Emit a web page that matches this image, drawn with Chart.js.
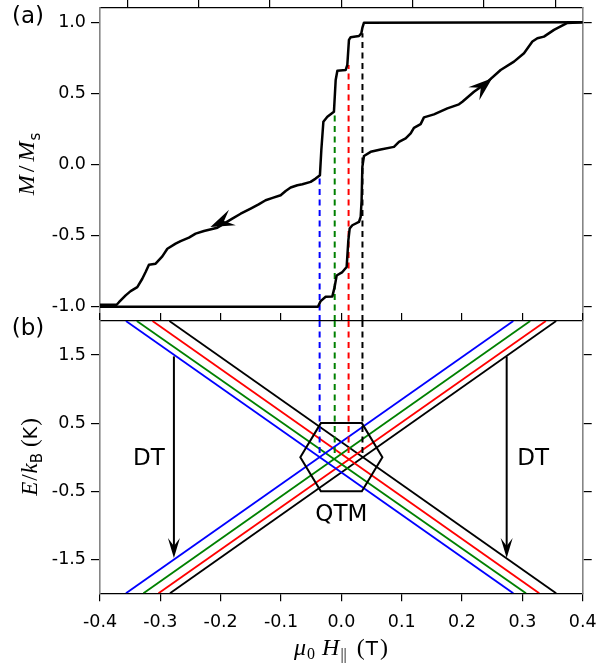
<!DOCTYPE html>
<html>
<head>
<meta charset="utf-8">
<script src="https://cdn.jsdelivr.net/npm/chart.js@4.4.1/dist/chart.umd.min.js"></script>
<style>
  html, body { margin: 0; padding: 0; background: #fff; }
  #wrap { position: relative; width: 600px; height: 663px; }
  #wrap canvas { position: absolute; left: 0; }
  #magnet { top: 0; }
  #levels { top: 300px; }
</style>
</head>
<body>
<div id="wrap">
  <canvas id="magnet" width="600" height="330"></canvas>
  <canvas id="levels" width="600" height="363"></canvas>
</div>
<script>
// ---- tick values ----
const fieldTicks = [-0.4, -0.3, -0.2, -0.1, 0.0, 0.1, 0.2, 0.3, 0.4];
const magTicks = [-1.0, -0.5, 0.0, 0.5, 1.0];
const energyTicks = [-1.5, -0.5, 0.5, 1.5];
const sweepTicks = [-3, -2, -1, 0, 1, 2, 3];

// ---- (a) magnetisation, up sweep (field increasing) ----
const upSweepH = [-0.4, -0.0388, -0.0343, -0.026, -0.0149, -0.0111, -0.0078, 0.0017, 0.0088, 0.0116,
  0.0138, 0.0182, 0.0292, 0.032, 0.0336, 0.0348, 0.0375, 0.0486, 0.0651, 0.0872, 0.0955, 0.1066,
  0.1149, 0.1203, 0.1314, 0.1369, 0.1535, 0.1757, 0.1949, 0.2006, 0.2198, 0.2392, 0.2640, 0.2861,
  0.3027, 0.3166, 0.3249, 0.3358, 0.3524, 0.3746, 0.4];
const upSweepM = [-1.0, -1.0, -0.96, -0.93, -0.927, -0.86, -0.78, -0.756, -0.72, -0.533,
  -0.45, -0.427, -0.404, -0.369, -0.25, -0.017, 0.06, 0.089, 0.106, 0.124, 0.159, 0.183,
  0.218, 0.258, 0.284, 0.331, 0.352, 0.394, 0.423, 0.441, 0.511, 0.570, 0.664, 0.723,
  0.782, 0.864, 0.887, 0.899, 0.946, 0.995, 1.0];

// ---- (a) magnetisation, down sweep (field decreasing) ----
const downSweepH = [0.4, 0.0375, 0.0348, 0.0331, 0.0292, 0.0154, 0.0126, 0.0099, 0.0071, -0.0066,
  -0.0094, -0.0123, -0.0232, -0.0298, -0.0332, -0.0355, -0.0426, -0.0509, -0.0646, -0.0729,
  -0.084, -0.0923, -0.1006, -0.1139, -0.1255, -0.1371, -0.1503, -0.1669, -0.1807, -0.2055,
  -0.2277, -0.2415, -0.2526, -0.2664, -0.2747, -0.2884, -0.2967, -0.3078, -0.3189, -0.3244,
  -0.3299, -0.3382, -0.3492, -0.3575, -0.3686, -0.3724, -0.4];
const downSweepM = [1.0, 0.997, 0.96, 0.922, 0.903, 0.894, 0.876, 0.70, 0.664, 0.659,
  0.594, 0.370, 0.335, 0.30, 0.10, -0.075, -0.099, -0.122, -0.139, -0.146,
  -0.162, -0.186, -0.216, -0.235, -0.251, -0.28, -0.31, -0.346, -0.380, -0.444,
  -0.467, -0.486, -0.514, -0.538, -0.556, -0.592, -0.646, -0.697, -0.704, -0.756,
  -0.803, -0.862, -0.890, -0.920, -0.968, -0.986, -0.986];

// ---- level crossings (one per colour) ----
const crossingColors = ['#0000ff', '#008000', '#ff0000', '#000000'];
const crossingH = [-0.036, -0.011, 0.012, 0.035];     // resonance fields (T)
const stepTopM = [-0.087, 0.370, 0.700, 0.923];       // M/Ms reached at each resonance
const crossingE = [0, 0, 0, 0];                        // E/kB at each crossing (K)

// ---- (b) Zeeman levels: field where each line meets E = +2 K and E = -2 K ----
const fallingTopH = [-0.357, -0.339, -0.313, -0.285];
const fallingBottomH = [0.285, 0.306, 0.328, 0.356];
const risingBottomH = [-0.357, -0.328, -0.303, -0.284];
const risingTopH = [0.285, 0.313, 0.339, 0.356];
const levelLimitE = [2, -2];

// ---- (b) annotation shapes ----
const qtmHexH = [-0.068, -0.034, 0.034, 0.068, 0.034, -0.034];
const qtmHexE = [0, 0.5, 0.5, 0, -0.5, -0.5];
const dtArrowH = [-0.2775, 0.274];
const dtArrowFromE = [1.48, 1.48];
const dtArrowToE = [-1.48, -1.48];

const MAG_MIN = -1.1, MAG_MAX = 1.1, E_MIN = -2, E_MAX = 2, H_MIN = -0.4, H_MAX = 0.4;

const SANS = "'DejaVu Sans'";
const SERIF = "'Liberation Serif'";
const tickFont = { family: SANS, size: 17.5 };
const frameGrey = '#858585';

const pts = (xs, ys) => xs.map((v, i) => ({ x: v, y: ys[i] }));
const setTicks = list => scale => { scale.ticks = list.map(v => ({ value: v })); };
const fmt = v => Number(v).toFixed(1);

function lineSet(data, color, width, dash) {
  return {
    data, showLine: true, borderColor: color, backgroundColor: color,
    borderWidth: width, borderDash: dash || [], pointRadius: 0, clip: 0,
    tension: 0, borderJoinStyle: 'round', borderCapStyle: 'butt'
  };
}

// fixed-size axis boxes so the plot frames land in the same place on both canvases
function fixBox(w, h) {
  return s => {
    if (w !== null) s.width = w;
    if (h !== null) s.height = h;
    s.paddingTop = 0; s.paddingBottom = 0; s.paddingLeft = 0; s.paddingRight = 0;
  };
}

function sideAxis(position, min, max, tickList, width, showLabels, borderColor) {
  return {
    type: 'linear', position, min, max,
    afterBuildTicks: setTicks(tickList),
    ticks: { display: showLabels, font: tickFont, color: '#000', padding: 5, callback: fmt },
    grid: { drawOnChartArea: false, drawTicks: true, tickLength: 9, color: '#000', lineWidth: 1.2 },
    border: { display: true, color: borderColor, width: 1.6 },
    afterFit: fixBox(width, null)
  };
}

// Rich text: runs of {t, f, dy, gap}
function drawRich(ctx, runs, cx, baseY, rot) {
  ctx.save();
  ctx.translate(cx, baseY);
  if (rot) ctx.rotate(rot);
  ctx.textBaseline = 'alphabetic';
  ctx.textAlign = 'left';
  ctx.fillStyle = '#000';
  let total = 0;
  runs.forEach(r => { ctx.font = r.f; r.w = ctx.measureText(r.t).width + (r.gap || 0); total += r.w; });
  let x = -total / 2;
  runs.forEach(r => { ctx.font = r.f; ctx.fillText(r.t, x, r.dy || 0); x += r.w; });
  ctx.restore();
}

function arrowHead(ctx, tx, ty, dx, dy, len, half, notch) {
  const n = Math.hypot(dx, dy) || 1;
  const ux = dx / n, uy = dy / n;
  const px = -uy, py = ux;
  ctx.beginPath();
  ctx.moveTo(tx, ty);
  ctx.lineTo(tx - ux * len + px * half, ty - uy * len + py * half);
  ctx.lineTo(tx - ux * len * notch, ty - uy * len * notch);
  ctx.lineTo(tx - ux * len - px * half, ty - uy * len - py * half);
  ctx.closePath();
  ctx.fill();
}

const italic = px => `italic ${px}px ${SERIF}`;
const roman = px => `${px}px ${SERIF}`;
const sans = px => `${px}px ${SANS}`;

// sweep direction arrows on the loop (tip and a point behind it, data units)
const sweepArrows = [
  { tipH: -0.217, tipM: -0.44, backH: -0.180, backM: -0.371 },
  { tipH: 0.250, tipM: 0.606, backH: 0.217, backM: 0.488 }
];

const magnetOverlay = {
  id: 'magnetOverlay',
  afterDatasetsDraw(chart) {
    const { ctx, scales: { x, y } } = chart;
    ctx.save();
    ctx.fillStyle = '#000';
    sweepArrows.forEach(a => {
      const tx = x.getPixelForValue(a.tipH), ty = y.getPixelForValue(a.tipM);
      const bx = x.getPixelForValue(a.backH), by = y.getPixelForValue(a.backM);
      arrowHead(ctx, tx, ty, tx - bx, ty - by, 24, 8.5, 0.62);
    });
    ctx.restore();
  },
  afterDraw(chart) {
    const ctx = chart.ctx;
    ctx.save();
    ctx.fillStyle = '#000';
    ctx.font = sans(23);
    ctx.textAlign = 'center';
    ctx.textBaseline = 'middle';
    ctx.fillText('(a)', 28, 17);
    ctx.restore();
    drawRich(ctx, [
      { t: 'M', f: italic(24), gap: 3 },
      { t: '/', f: roman(24), gap: 4 },
      { t: 'M', f: italic(24), gap: 1 },
      { t: 's', f: sans(15), dy: 6 }
    ], 34, 164, -Math.PI / 2);
  }
};

const levelsOverlay = {
  id: 'levelsOverlay',
  afterDatasetsDraw(chart) {
    const { ctx, scales: { x, y } } = chart;
    ctx.save();
    // QTM hexagon
    ctx.strokeStyle = '#000';
    ctx.lineWidth = 2;
    ctx.lineJoin = 'miter';
    ctx.beginPath();
    qtmHexH.forEach((h, i) => {
      const px = x.getPixelForValue(h), py = y.getPixelForValue(qtmHexE[i]);
      if (i === 0) ctx.moveTo(px, py); else ctx.lineTo(px, py);
    });
    ctx.closePath();
    ctx.stroke();
    // direct-transition arrows
    ctx.fillStyle = '#000';
    dtArrowH.forEach((h, i) => {
      const px = x.getPixelForValue(h);
      const y0 = y.getPixelForValue(dtArrowFromE[i]);
      const y1 = y.getPixelForValue(dtArrowToE[i]);
      ctx.beginPath();
      ctx.moveTo(px, y0);
      ctx.lineTo(px, y1 - 10);
      ctx.stroke();
      arrowHead(ctx, px, y1, 0, 1, 20, 6, 0.6);
    });
    // labels
    ctx.font = sans(23);
    ctx.textAlign = 'center';
    ctx.textBaseline = 'middle';
    ctx.fillText('DT', x.getPixelForValue(-0.319), y.getPixelForValue(-0.03));
    ctx.fillText('DT', x.getPixelForValue(0.318), y.getPixelForValue(-0.03));
    ctx.fillText('QTM', x.getPixelForValue(0.0), y.getPixelForValue(-0.85));
    ctx.restore();
  },
  afterDraw(chart) {
    const ctx = chart.ctx;
    ctx.save();
    ctx.fillStyle = '#000';
    ctx.font = sans(23);
    ctx.textAlign = 'center';
    ctx.textBaseline = 'middle';
    ctx.fillText('(b)', 28, 29);
    ctx.restore();
    drawRich(ctx, [
      { t: 'E', f: italic(23), gap: 1 },
      { t: '/', f: roman(23), gap: 1 },
      { t: 'k', f: italic(23), gap: 0 },
      { t: 'B', f: sans(15), dy: 5, gap: 6 },
      { t: '(', f: roman(23), gap: 0 },
      { t: 'K', f: sans(19), gap: 1 },
      { t: ')', f: roman(23) }
    ], 37, 157, -Math.PI / 2);
    drawRich(ctx, [
      { t: 'μ', f: italic(24), gap: 1 },
      { t: '0', f: roman(16), dy: 4, gap: 7 },
      { t: 'H', f: italic(24), gap: 1 },
      { t: '||', f: roman(16), dy: 5, gap: 10 },
      { t: '(', f: roman(24), gap: 1 },
      { t: 'T', f: sans(20), gap: 2 },
      { t: ')', f: roman(24) }
    ], 341, 355, 0);
  }
};

const common = {
  responsive: false, animation: false, devicePixelRatio: 1,
  events: [],
  plugins: { legend: { display: false }, tooltip: { enabled: false } }
};

// ---- (a) ----
const magnetSets = [
  lineSet(pts(upSweepH, upSweepM), '#000', 2.5),
  lineSet(pts(downSweepH, downSweepM), '#000', 2.5)
];
crossingH.forEach((h, i) => {
  magnetSets.push(lineSet(pts([h, h], [MAG_MIN, stepTopM[i]]), crossingColors[i], 2, [6, 4.5]));
});

new Chart(document.getElementById('magnet'), {
  type: 'scatter',
  data: { datasets: magnetSets },
  options: Object.assign({}, common, {
    layout: { padding: { left: 0, right: 0, top: 0, bottom: 9 }, autoPadding: false },
    scales: {
      x: { type: 'linear', min: H_MIN, max: H_MAX, display: false },
      xSweep: {
        type: 'linear', axis: 'x', position: 'top', min: -3.385, max: 3.385,
        afterBuildTicks: setTicks(sweepTicks),
        ticks: { display: false },
        grid: { drawOnChartArea: false, drawTicks: true, tickLength: 8, color: '#000', lineWidth: 1.2 },
        border: { display: true, color: '#000', width: 1.3 },
        afterFit: fixBox(null, 8)
      },
      y: sideAxis('left', MAG_MIN, MAG_MAX, magTicks, 100, true, frameGrey),
      yRight: sideAxis('right', MAG_MIN, MAG_MAX, magTicks, 17.3, false, frameGrey)
    }
  }),
  plugins: [magnetOverlay]
});

// ---- (b) ----
const levelSets = [];
crossingH.forEach((h, i) => {
  levelSets.push(lineSet(pts([h, h], [E_MAX, crossingE[i]]), crossingColors[i], 2, [6, 4.5]));
});
crossingColors.forEach((c, i) => {
  levelSets.push(lineSet(pts([fallingTopH[i], fallingBottomH[i]], levelLimitE), c, 1.8));
  levelSets.push(lineSet(pts([risingBottomH[i], risingTopH[i]], [levelLimitE[1], levelLimitE[0]]), c, 1.8));
});

new Chart(document.getElementById('levels'), {
  type: 'scatter',
  data: { datasets: levelSets },
  options: Object.assign({}, common, {
    layout: { padding: 0, autoPadding: false },
    scales: {
      x: {
        type: 'linear', position: 'bottom', min: H_MIN, max: H_MAX,
        afterBuildTicks: setTicks(fieldTicks),
        ticks: { font: tickFont, color: '#000', padding: 11, callback: fmt, maxRotation: 0 },
        grid: { drawOnChartArea: false, drawTicks: true, tickLength: 8, color: '#000', lineWidth: 1.2 },
        border: { display: true, color: '#000', width: 1.3 },
        afterFit: fixBox(null, 69.7)
      },
      xTop: {
        type: 'linear', axis: 'x', position: 'top', min: H_MIN, max: H_MAX,
        afterBuildTicks: setTicks(fieldTicks),
        ticks: { display: false },
        grid: { drawOnChartArea: false, drawTicks: true, tickLength: 8, color: '#000', lineWidth: 1.2 },
        border: { display: true, color: '#000', width: 1.3 },
        afterFit: fixBox(null, 21)
      },
      y: sideAxis('left', E_MIN, E_MAX, energyTicks, 100, true, frameGrey),
      yRight: sideAxis('right', E_MIN, E_MAX, energyTicks, 17.3, false, frameGrey)
    }
  }),
  plugins: [levelsOverlay]
});
</script>
</body>
</html>
